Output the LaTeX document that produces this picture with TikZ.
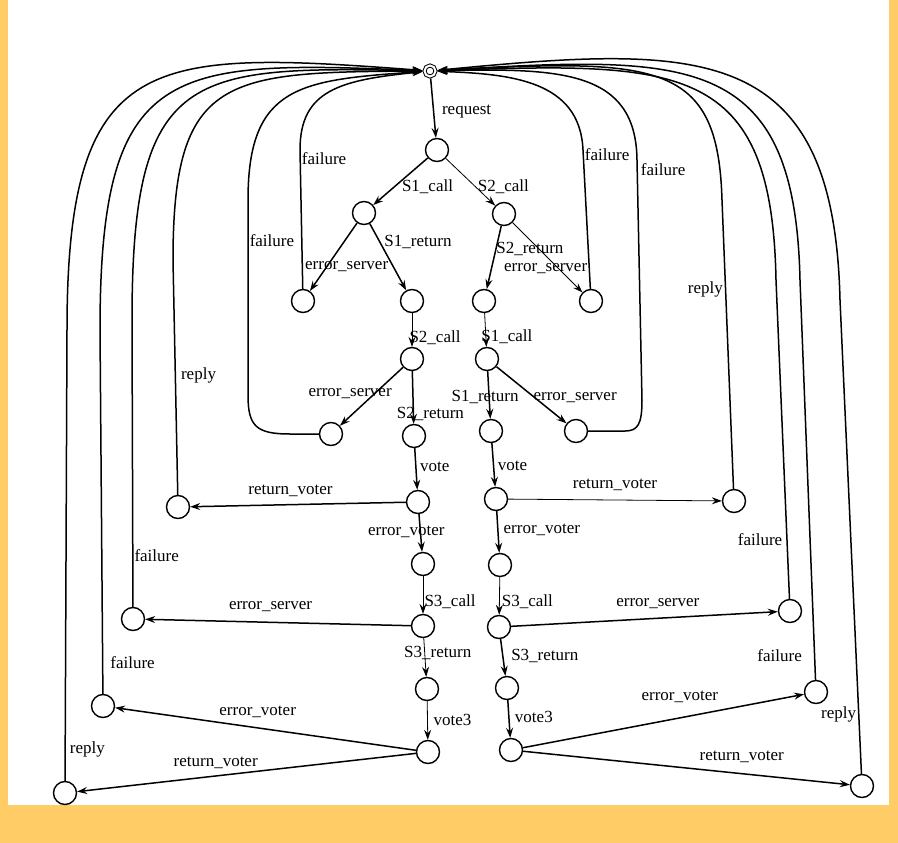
\documentclass[tikz,border=0pt]{standalone}
\usepackage{fontspec}
\setmainfont{Liberation Serif}
\usetikzlibrary{arrows.meta}

\definecolor{sheet}{HTML}{FFCC66}

\begin{document}
\begin{tikzpicture}[
    x=1pt, y=-1pt,
    arr/.tip={Stealth[length=10pt,width=7pt,inset=3.5pt]},
    state/.style={draw, circle, line width=1.4pt, minimum size=23pt, inner sep=0pt},
    start/.style={draw, circle, double, double distance=2pt, line width=1pt, minimum size=11pt, inner sep=0pt, outer sep=2pt},
    trans/.style={-arr, line width=1.5pt},
    light/.style={-arr, line width=0.8pt},
    lbl/.style={inner sep=0pt, font=\fontsize{17}{19}\selectfont},
]
    \fill[sheet] (0,0) rectangle (898,843);
    \fill[white] (8,0) rectangle (889,805);
    \useasboundingbox (0,0) rectangle (898,843);

    \node[start] (q0) at (430,71) {};
    \node[state] (q1) at (437,150) {};
    \node[state] (q2) at (364,213) {};
    \node[state] (q3) at (504,214) {};
    \node[state] (q4) at (303,301) {};
    \node[state] (q5) at (412,301) {};
    \node[state] (q6) at (484,301) {};
    \node[state] (q7) at (591,301) {};
    \node[state] (q8) at (412,359) {};
    \node[state] (q9) at (487,359) {};
    \node[state] (q10) at (331,434) {};
    \node[state] (q11) at (414,436) {};
    \node[state] (q12) at (491,431) {};
    \node[state] (q13) at (576,431) {};
    \node[state] (q14) at (418,502) {};
    \node[state] (q15) at (496,499) {};
    \node[state] (q16) at (178,507) {};
    \node[state] (q17) at (734,501) {};
    \node[state] (q18) at (423,564) {};
    \node[state] (q19) at (500,565) {};
    \node[state] (q20) at (423,626) {};
    \node[state] (q21) at (499,627) {};
    \node[state] (q22) at (133,619) {};
    \node[state] (q23) at (790,611) {};
    \node[state] (q24) at (427,689) {};
    \node[state] (q25) at (507,688) {};
    \node[state] (q26) at (428,752) {};
    \node[state] (q27) at (511,750) {};
    \node[state] (q28) at (103,706) {};
    \node[state] (q29) at (816,692) {};
    \node[state] (q30) at (65,793) {};
    \node[state] (q31) at (862,786) {};

    % forward transitions
    \draw[trans] (q0) -- node[lbl, pos=.56, xshift=33pt] {request} (q1);
    \draw[trans] (q1) -- node[lbl, pos=.61, xshift=33pt] {S1\_call} (q2);
    \draw[light] (q1) -- node[lbl, pos=.6, xshift=28pt] {S2\_call} (q3);
    \draw[trans] (q2) -- node[lbl, pos=.645, xshift=20pt] {error\_server} (q4);
    \draw[trans] (q2) -- node[lbl, pos=.28, xshift=38pt] {S1\_return} (q5);
    \draw[trans] (q3) -- node[lbl, pos=.37, xshift=34pt] {S2\_return} (q6);
    \draw[light] (q3) -- node[lbl, pos=.66, xshift=-13pt] {error\_server} (q7);
    \draw[light] (q5) -- node[lbl, pos=.73, xshift=23pt] {S2\_call} (q8);
    \draw[light] (q6) -- node[lbl, pos=.7, xshift=21pt] {S1\_call} (q9);
    \draw[trans] (q8) -- node[lbl, pos=.458, xshift=-24pt] {error\_server} (q10);
    \draw[trans] (q8) -- node[lbl, pos=.806, xshift=17pt] {S2\_return} (q11);
    \draw[trans] (q9) -- node[lbl, pos=.54, xshift=-4pt] {S1\_return} (q12);
    \draw[trans] (q9) -- node[lbl, pos=.552, xshift=40pt] {error\_server} (q13);
    \draw[trans] (q11) -- node[lbl, pos=.453, xshift=19pt] {vote} (q14);
    \draw[trans] (q12) -- node[lbl, pos=.52, xshift=19pt] {vote} (q15);
    \draw[trans] (q14) -- node[lbl, pos=.535, yshift=14pt] {return\_voter} (q16);
    \draw[light] (q15) -- node[lbl, pos=.5, yshift=15pt] {return\_voter} (q17);
    \draw[trans] (q14) -- node[lbl, pos=.474, xshift=-14pt] {error\_voter} (q18);
    \draw[trans] (q15) -- node[lbl, pos=.453, xshift=44pt] {error\_voter} (q19);
    \draw[light] (q18) -- node[lbl, pos=.68, xshift=27pt] {S3\_call} (q20);
    \draw[light] (q19) -- node[lbl, pos=.65, xshift=28pt] {S3\_call} (q21);
    \draw[trans] (q20) -- node[lbl, pos=.528, yshift=16pt] {error\_server} (q22);
    \draw[trans] (q21) -- node[lbl, pos=.55, yshift=15pt] {error\_server} (q23);
    \draw[light] (q20) -- node[lbl, pos=.39, xshift=13pt] {S3\_return} (q24);
    \draw[trans] (q21) -- node[lbl, pos=.46, xshift=42pt] {S3\_return} (q25);
    \draw[light] (q24) -- node[lbl, pos=.49, xshift=25pt] {vote3} (q26);
    \draw[trans] (q25) -- node[lbl, pos=.45, xshift=25pt] {vote3} (q27);
    \draw[trans] (q26) -- node[lbl, pos=.526, yshift=16pt] {error\_voter} (q28);
    \draw[trans] (q26) -- node[lbl, pos=.591, yshift=13pt] {return\_voter} (q30);
    \draw[trans] (q27) -- node[lbl, pos=.558, yshift=21pt] {error\_voter} (q29);
    \draw[trans] (q27) -- node[lbl, pos=.669, yshift=17pt] {return\_voter} (q31);

    % back to the start state, left side
    \draw[trans] (q4) -- node[lbl, pos=.94, anchor=west, xshift=1pt] {failure} (300,150)
        .. controls (300,90) and (340,80) .. (q0);
    \draw[trans] (q10) -- (290,434) .. controls (256,434) and (248,426) .. (248,395)
        -- node[lbl, pos=.79, anchor=west, xshift=1pt] {failure} (248,200)
        .. controls (248,85) and (300,80) .. (q0);
    \draw[trans] (q16) -- node[lbl, pos=.51, anchor=west, xshift=5pt] {reply} (173,260)
        .. controls (173,75) and (225,72) .. (q0);
    \draw[trans] (q22) -- node[lbl, pos=.18, anchor=west, xshift=1pt] {failure} (132,320)
        .. controls (132,68) and (190,66) .. (q0);
    \draw[trans] (q28) -- node[lbl, pos=.086, anchor=west, xshift=7pt] {failure} (100,330)
        .. controls (100,62) and (170,60) .. (q0);
    \draw[trans] (q30) -- node[lbl, pos=.07, anchor=west, xshift=4pt] {reply} (67,330)
        .. controls (67,50) and (150,50) .. (q0);

    % back to the start state, right side
    \draw[trans] (q7) -- node[lbl, pos=.97, anchor=west, xshift=1pt] {failure} (583,150)
        .. controls (580,80) and (510,74) .. (q0);
    \draw[trans] (q13) -- (625,431) .. controls (638,431) and (642,424) .. (642,400)
        -- node[lbl, pos=.96, anchor=west, xshift=3pt] {failure} (637,160)
        .. controls (636,70) and (560,68) .. (q0);
    \draw[trans] (q17) -- node[lbl, pos=.69, anchor=east, xshift=-2pt] {reply} (722,200)
        .. controls (718,62) and (660,58) .. (q0);
    \draw[trans] (q23) -- node[lbl, pos=.186, anchor=east, xshift=-4pt] {failure} (776,280)
        .. controls (772,62) and (680,62) .. (q0);
    \draw[trans] (q29) -- node[lbl, pos=.06, anchor=east, xshift=-12pt] {failure} (800,280)
        .. controls (795,52) and (690,55) .. (q0);
    \draw[trans] (q31) -- node[lbl, pos=.125, anchor=east, xshift=-2pt] {reply} (840,300)
        .. controls (834,40) and (700,45) .. (q0);
\end{tikzpicture}
\end{document}
